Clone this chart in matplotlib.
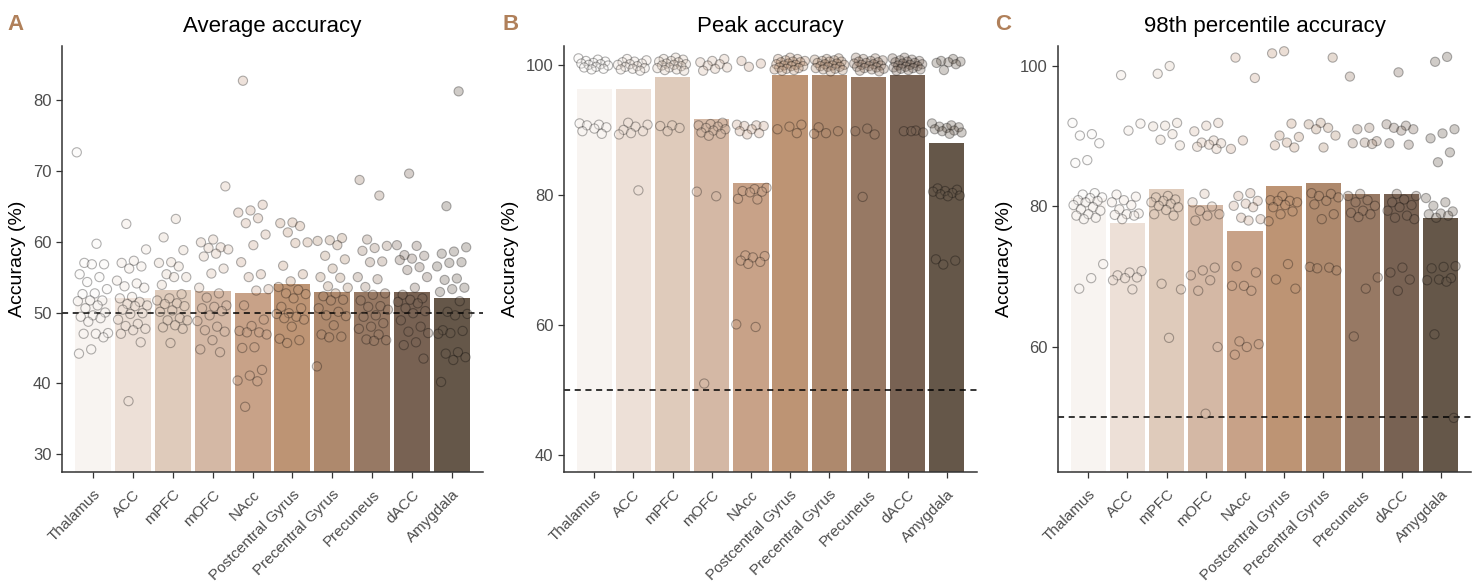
import numpy as np
import matplotlib
matplotlib.use('Agg')
import matplotlib.pyplot as plt
from matplotlib.colors import to_rgba

plt.rcParams['font.family'] = ['Liberation Sans', 'DejaVu Sans']

regions = ["Thalamus", "ACC", "mPFC", "mOFC", "NAcc", "Postcentral Gyrus",
           "Precentral Gyrus", "Precuneus", "dACC", "Amygdala"]
bar_colors = ["#f8f4f1", "#ede0d7", "#dfcbbb", "#d4b8a5", "#c8a288",
              "#bd9474", "#ae896d", "#977964", "#786253", "#655749"]

# bar heights (mean accuracy per region)
avg_means = [52.0, 52.0, 53.2, 53.0, 52.7, 54.0, 52.9, 52.9, 52.9, 52.1]
peak_means = [96.3, 96.3, 98.1, 91.7, 81.8, 98.5, 98.5, 98.1, 98.5, 88.0]
p98_means = [81.2, 77.6, 82.5, 80.2, 76.5, 82.9, 83.3, 81.8, 81.8, 78.4]

# individual subjects, panel A
avg_thal = [72.6, 59.7, 57.0, 56.8, 56.8, 55.4, 55.0, 54.3, 53.3, 52.7, 52.6, 51.7, 51.7, 51.6,
            51.0, 50.6, 50.0, 49.6, 49.4, 49.2, 48.7, 47.1, 47.0, 47.0, 46.5, 44.8, 44.2]
avg_acc = [62.5, 58.9, 57.3, 57.0, 56.5, 56.2, 54.5, 54.1, 53.7, 53.5, 52.2, 52.0, 51.5, 51.2,
           51.0, 50.9, 50.4, 49.9, 49.8, 49.0, 48.4, 48.1, 47.7, 47.5, 47.0, 45.8, 37.5]
avg_mpfc = [63.2, 60.6, 58.8, 57.1, 57.0, 56.5, 55.4, 55.0, 55.0, 53.9, 52.6, 52.0, 51.7,
            51.3, 51.2, 50.9, 50.3, 50.1, 49.2, 48.9, 48.9, 48.2, 47.9, 47.7, 45.7]
avg_mofc = [67.8, 60.3, 59.9, 59.2, 59.1, 58.9, 58.3, 57.9, 56.2, 55.5, 53.5, 52.7, 52.1,
            51.0, 50.8, 50.6, 50.2, 49.6, 48.8, 48.0, 47.5, 47.3, 46.1, 44.8, 44.4]
avg_nacc = [82.7, 65.2, 64.4, 64.1, 63.3, 62.6, 61.0, 59.5, 57.1, 55.4, 55.0, 53.3, 53.1, 51.0,
            49.0, 48.1, 47.4, 47.2, 47.2, 46.9, 45.1, 45.0, 41.9, 41.1, 40.4, 40.3, 36.7]
avg_post = [62.7, 62.6, 62.2, 61.3, 59.9, 59.8, 56.6, 55.4, 54.4, 53.6, 53.2, 52.7, 52.6,
            52.0, 50.8, 50.6, 49.9, 49.8, 49.4, 49.2, 49.0, 48.0, 46.3, 46.1, 45.7]
avg_pre = [60.5, 60.2, 60.1, 59.5, 58.0, 57.5, 56.2, 55.0, 54.9, 53.7, 53.5, 52.7, 52.3,
           51.8, 51.7, 50.6, 50.1, 49.6, 49.5, 48.2, 46.9, 46.6, 46.5, 42.4]
avg_prec = [68.7, 66.5, 60.3, 59.4, 59.1, 58.7, 57.2, 57.1, 55.0, 54.7, 53.6, 52.7, 52.5,
            51.7, 50.9, 50.8, 50.4, 49.6, 49.4, 48.5, 48.0, 47.7, 46.9, 46.2, 46.1, 46.0]
avg_dacc = [69.6, 59.5, 59.4, 58.1, 58.0, 57.6, 57.4, 56.4, 56.0, 55.0, 53.5, 52.5, 52.0,
            51.8, 51.5, 51.3, 50.6, 50.2, 49.9, 48.9, 48.0, 47.3, 47.1, 45.8, 45.4, 43.5]
avg_amy = [81.2, 65.0, 59.2, 58.6, 58.3, 57.1, 57.0, 56.5, 54.8, 54.6, 53.5, 53.3, 52.9,
           51.6, 50.1, 49.8, 49.6, 47.5, 47.4, 47.1, 47.0, 44.4, 44.2, 43.7, 43.3, 40.2]

# panel B
peak_thal = [101.0, 100.8, 100.6, 100.5, 100.3, 100.2, 100.1, 100.0, 99.9, 99.7, 99.6, 99.4,
             99.3, 91.0, 90.8, 90.7, 90.4, 90.2, 89.8, 89.4]
peak_acc = [100.9, 100.7, 100.5, 100.4, 100.2, 100.1, 100.0, 99.8, 99.7, 99.5, 99.4, 99.3,
            99.1, 91.1, 90.8, 90.5, 90.0, 89.8, 89.5, 89.3, 80.7]
peak_mpfc = [101.1, 100.9, 100.8, 100.6, 100.5, 100.4, 100.2, 100.1, 100.0, 99.9, 99.8, 99.6,
             99.5, 99.3, 99.2, 99.1, 90.7, 90.6, 90.3, 89.8]
peak_mofc = [100.9, 100.6, 100.4, 100.1, 99.9, 99.6, 99.4, 99.1, 91.1, 90.9, 90.7, 90.5, 90.3,
             90.1, 89.9, 89.6, 89.4, 89.1, 80.5, 79.8, 51.0]
peak_nacc = [100.6, 100.2, 99.7, 90.8, 90.7, 90.6, 90.6, 90.1, 89.8, 89.5, 89.3, 81.1, 80.9,
             80.6, 80.5, 80.4, 79.4, 79.3, 70.7, 70.6, 70.4, 69.9, 69.7, 69.4, 60.1, 59.7]
peak_post = [101.1, 100.9, 100.9, 100.7, 100.6, 100.5, 100.4, 100.4, 100.2, 100.1, 100.0, 99.9,
             99.8, 99.8, 99.6, 99.5, 99.4, 99.3, 99.2, 99.1, 90.8, 90.5, 90.1, 89.5]
peak_pre = [101.0, 100.9, 100.8, 100.7, 100.6, 100.5, 100.5, 100.3, 100.2, 100.1, 100.0, 99.9,
            99.8, 99.7, 99.7, 99.5, 99.4, 99.3, 99.2, 99.0, 90.4, 89.8, 89.5, 89.4]
peak_prec = [101.1, 101.0, 100.9, 100.7, 100.6, 100.5, 100.4, 100.3, 100.2, 100.1, 100.0,
             99.9, 99.8, 99.7, 99.6, 99.5, 99.4, 99.3, 99.1, 99.0, 90.2, 89.8, 89.3, 79.7]
peak_dacc = [101.1, 101.0, 100.8, 100.7, 100.6, 100.5, 100.4, 100.3, 100.2, 100.1, 100.0,
             99.9, 99.8, 99.7, 99.6, 99.5, 99.4, 99.3, 99.2, 99.1, 89.9, 89.8, 89.6, 89.8]
peak_amy = [100.9, 100.6, 100.5, 100.4, 100.3, 100.1, 99.2, 91.0, 90.7, 90.5, 90.4, 90.3, 90.1,
            89.9, 89.8, 89.6, 89.4, 81.0, 80.8, 80.6, 80.5, 80.3, 80.1, 79.9, 79.8, 70.1, 69.9, 69.3]

# panel C
p98_thal = [91.9, 90.3, 90.1, 89.0, 86.6, 86.2, 81.9, 81.7, 81.3, 81.2, 80.9, 80.8, 80.6,
            80.2, 79.9, 79.6, 79.4, 78.9, 78.7, 78.4, 78.2, 71.8, 69.8, 68.3]
p98_acc = [98.7, 91.8, 90.8, 81.7, 81.4, 80.9, 80.6, 80.2, 79.6, 79.0, 78.9, 78.8, 78.7, 78.2,
           70.8, 70.6, 70.2, 69.9, 69.8, 69.5, 68.2]
p98_mpfc = [100.0, 98.9, 91.9, 91.5, 91.4, 90.3, 89.5, 88.7, 81.5, 81.3, 81.0, 80.8, 80.6,
            80.4, 80.1, 79.9, 79.5, 78.9, 78.7, 69.0, 68.2, 61.3]
p98_mofc = [91.9, 91.5, 90.7, 89.4, 89.1, 89.0, 88.8, 88.5, 88.2, 81.8, 80.6, 80.0, 79.4,
            78.9, 78.7, 78.0, 71.3, 70.9, 70.2, 69.5, 68.0, 60.0, 50.5]
p98_nacc = [101.2, 98.3, 89.4, 88.2, 81.9, 81.5, 80.8, 80.4, 80.1, 79.9, 78.4, 78.2, 78.0,
            71.5, 70.6, 68.7, 68.7, 68.0, 60.8, 60.4, 60.0, 58.9]
p98_post = [102.1, 101.8, 91.8, 90.1, 89.9, 89.1, 88.7, 88.4, 81.5, 80.9, 80.8, 80.8, 80.6,
            80.2, 79.9, 79.3, 78.9, 77.9, 71.8, 69.6, 68.3]
p98_pre = [101.2, 91.9, 91.7, 91.2, 91.0, 90.1, 88.4, 81.9, 81.8, 81.5, 81.3, 80.8, 80.3,
           78.9, 78.2, 71.4, 71.3, 71.2, 70.9]
p98_prec = [98.5, 91.2, 91.0, 89.3, 89.1, 89.0, 88.9, 81.8, 81.5, 80.9, 80.6, 80.1, 79.4,
            79.1, 78.9, 78.5, 69.9, 68.3, 61.5]
p98_dacc = [99.1, 91.7, 91.5, 91.2, 91.0, 90.8, 89.0, 88.8, 81.8, 81.5, 81.0, 80.6, 80.2,
            79.9, 79.4, 78.7, 78.4, 78.2, 71.3, 70.6, 69.6, 68.0]
p98_amy = [101.3, 100.6, 91.0, 90.4, 89.7, 87.7, 86.3, 81.2, 80.6, 80.1, 79.3, 79.0, 78.9,
           78.7, 78.4, 71.5, 71.4, 71.2, 69.8, 69.6, 69.5, 69.3, 61.8, 49.9]

panels = [
    ("A", "Average accuracy", avg_means,
     [avg_thal, avg_acc, avg_mpfc, avg_mofc, avg_nacc, avg_post, avg_pre, avg_prec, avg_dacc, avg_amy],
     (27.5, 87.6), [30, 40, 50, 60, 70, 80]),
    ("B", "Peak accuracy", peak_means,
     [peak_thal, peak_acc, peak_mpfc, peak_mofc, peak_nacc, peak_post, peak_pre, peak_prec, peak_dacc, peak_amy],
     (37.4, 102.9), [40, 60, 80, 100]),
    ("C", "98th percentile accuracy", p98_means,
     [p98_thal, p98_acc, p98_mpfc, p98_mofc, p98_nacc, p98_post, p98_pre, p98_prec, p98_dacc, p98_amy],
     (42.2, 102.85), [60, 80, 100]),
]

W, H = 1472, 587
fig = plt.figure(figsize=(W / 100, H / 100), dpi=100)
boxes = [(62, 483), (564, 977), (1058, 1471)]
letter_x = [16, 511, 1003]
top, bottom = 46, 472

for (letter, title, means, pts, ylim, yticks), (x0, x1), lx in zip(panels, boxes, letter_x):
    ax = fig.add_axes([x0 / W, 1 - bottom / H, (x1 - x0) / W, (bottom - top) / H])
    xs = np.arange(len(regions))
    ax.bar(xs, means, width=0.9, color=bar_colors, zorder=1)
    ax.axhline(50, color="black", lw=1.1, ls=(0, (4, 3)), zorder=2)
    for i, vals in enumerate(pts):
        n = len(vals)
        # deterministic horizontal spread (jitter), not data
        off = ((np.arange(n) * 0.618034 + 0.3 * i) % 1 - 0.5) * 0.8
        ax.scatter(xs[i] + off, vals, s=44, facecolors=[to_rgba(bar_colors[i], 0.3)] * n,
                   edgecolors=[(0, 0, 0, 0.3)] * n, linewidths=0.8, zorder=3)
    ax.set_xlim(-0.77, 9.77)
    ax.set_ylim(*ylim)
    ax.set_yticks(yticks)
    ax.set_xticks(xs)
    ax.set_xticklabels(regions, rotation=45, ha="right", va="top", rotation_mode="anchor")
    for s in ["top", "right"]:
        ax.spines[s].set_visible(False)
    for s in ["left", "bottom"]:
        ax.spines[s].set_color("#333333")
        ax.spines[s].set_linewidth(1.1)
    ax.tick_params(axis="both", colors="#333333", length=4, width=0.9, labelcolor="#4d4d4d")
    ax.tick_params(axis="y", labelsize=12)
    ax.tick_params(axis="x", labelsize=11, pad=7)
    ax.set_ylabel("Accuracy (%)", fontsize=14, labelpad=5)
    ax.set_title(title, fontsize=16, pad=10)
    fig.text(lx / W, 1 - 25 / H, letter, fontsize=16, fontweight="bold", color="#b0805a",
             ha="center", va="center")

fig.savefig("out.png", dpi=100)
